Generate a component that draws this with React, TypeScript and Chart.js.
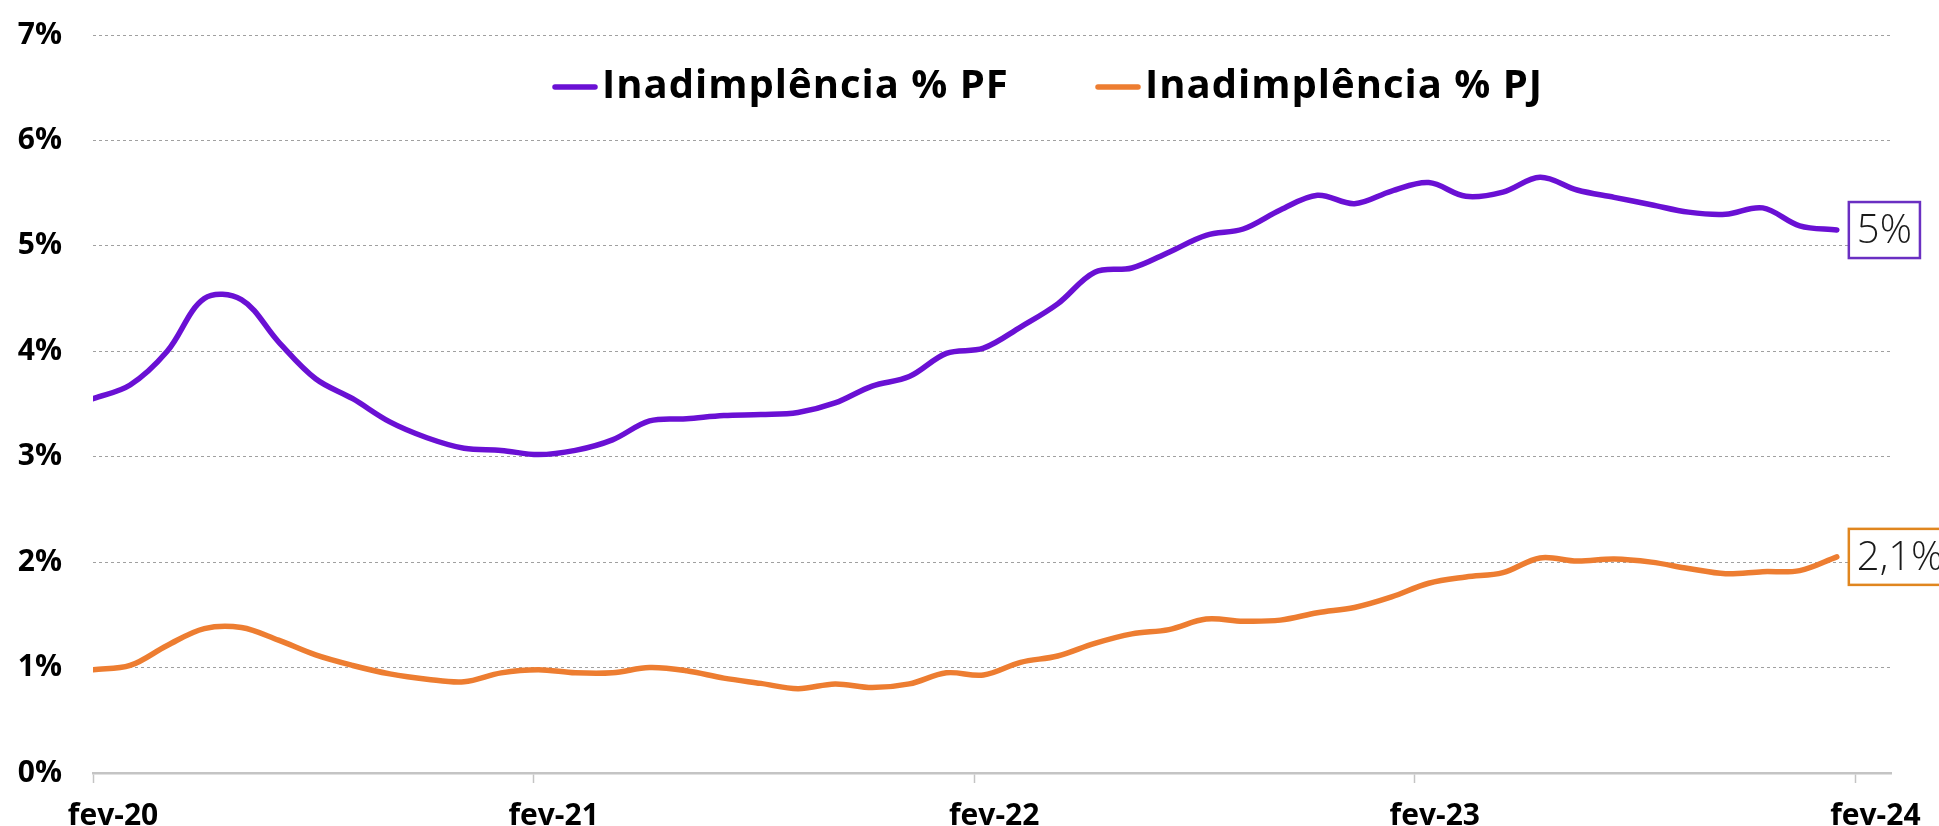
import React, { useEffect, useRef } from 'react';
import { Chart, registerables } from 'chart.js';

Chart.register(...registerables);

// ---- data ----
const MONTH_ABBR = ['jan', 'fev', 'mar', 'abr', 'mai', 'jun', 'jul', 'ago', 'set', 'out', 'nov', 'dez'];
const MONTHS: string[] = [];
for (let k = 0; k < 48; k++) {
  const m = (1 + k) % 12;
  const yr = 20 + Math.floor((1 + k) / 12);
  MONTHS.push(`${MONTH_ABBR[m]}-${yr}`);
}

const PF = [
  3.55, 3.68, 4.0, 4.5, 4.49, 4.09, 3.74, 3.55, 3.33, 3.18, 3.08, 3.06,
  3.02, 3.06, 3.16, 3.34, 3.36, 3.39, 3.4, 3.42, 3.51, 3.67, 3.76, 3.98,
  4.03, 4.23, 4.45, 4.75, 4.79, 4.94, 5.1, 5.16, 5.34, 5.48, 5.4, 5.52,
  5.6, 5.47, 5.51, 5.65, 5.53, 5.46, 5.39, 5.32, 5.3, 5.36, 5.19, 5.15,
];

const PJ = [
  0.98, 1.02, 1.21, 1.37, 1.38, 1.26, 1.12, 1.02, 0.94, 0.89, 0.865, 0.95,
  0.98, 0.95, 0.95, 1.0, 0.97, 0.9, 0.85, 0.8, 0.845, 0.81, 0.845, 0.95,
  0.93, 1.05, 1.11, 1.23, 1.32, 1.36, 1.46, 1.44, 1.45, 1.52, 1.57, 1.67,
  1.8, 1.86, 1.9, 2.04, 2.01, 2.03, 2.0, 1.94, 1.89, 1.91, 1.92, 2.05,
];

const SERIES_NAMES = ['Inadimplência % PF', 'Inadimplência % PJ'];
const SERIES_COLORS = ['#6A10D4', '#ED7D31'];
const END_LABEL_BORDERS = ['#6A2FC2', '#E0861F'];
const END_LABELS = ['5%', '2,1%'];

const X_TICK_LABELS = ['fev-20', 'fev-21', 'fev-22', 'fev-23', 'fev-24'];
const X_TICK_POS = [0, 11.875, 23.75, 35.625, 47.5];
const X_MAX = 48.46;
const Y_MIN = 0;
const Y_MAX = 7;

const FONT = '"Open Sans", "DejaVu Sans", sans-serif';

const legendPlugin = {
  id: 'customLegend',
  afterDraw(chart: any) {
    const ctx = chart.ctx;
    const starts = [553, 1096];
    const y = 87;
    ctx.save();
    chart.data.datasets.forEach((ds: any, i: number) => {
      const x0 = starts[i];
      ctx.strokeStyle = ds.borderColor;
      ctx.lineWidth = 5.5;
      ctx.lineCap = 'round';
      ctx.beginPath();
      ctx.moveTo(x0 + 2, y);
      ctx.lineTo(x0 + 42, y);
      ctx.stroke();
      ctx.fillStyle = '#000';
      ctx.font = `bold 40px ${FONT}`;
      try { (ctx as any).letterSpacing = '1px'; } catch (e) {}
      ctx.textBaseline = 'alphabetic';
      ctx.textAlign = 'left';
      ctx.fillText(ds.label, x0 + 49, 98);
      try { (ctx as any).letterSpacing = '0px'; } catch (e) {}
    });
    ctx.restore();
  },
};

const endLabelPlugin = {
  id: 'endLabels',
  afterDatasetsDraw(chart: any) {
    const ctx = chart.ctx;
    ctx.save();
    chart.data.datasets.forEach((ds: any, i: number) => {
      const meta = chart.getDatasetMeta(i);
      const pt = meta.data[meta.data.length - 1];
      if (!pt) return;
      const text = END_LABELS[i];
      ctx.font = `300 40px ${FONT}`;
      const tw = ctx.measureText(text).width;
      const bx = pt.x + 12;
      const bh = 56;
      const bw = tw + 16;
      const by = pt.y - bh / 2;
      ctx.fillStyle = '#fff';
      ctx.fillRect(bx, by, bw, bh);
      ctx.strokeStyle = END_LABEL_BORDERS[i];
      ctx.lineWidth = 2.5;
      ctx.strokeRect(bx, by, bw, bh);
      ctx.fillStyle = '#1a1a1a';
      ctx.textBaseline = 'middle';
      ctx.textAlign = 'left';
      ctx.fillText(text, bx + 8, pt.y + 2);
    });
    ctx.restore();
  },
};

export default function App() {
  const ref = useRef<HTMLCanvasElement | null>(null);

  useEffect(() => {
    if (!ref.current) return;
    const chart = new Chart(ref.current, {
      type: 'line',
      data: {
        labels: MONTHS,
        datasets: [
          {
            label: SERIES_NAMES[0],
            data: PF.map((v, i) => ({ x: i, y: v })),
            borderColor: SERIES_COLORS[0],
            backgroundColor: SERIES_COLORS[0],
            borderWidth: 5.5,
            pointRadius: 0,
            tension: 0.35,
            borderCapStyle: 'round',
            borderJoinStyle: 'round',
          },
          {
            label: SERIES_NAMES[1],
            data: PJ.map((v, i) => ({ x: i, y: v })),
            borderColor: SERIES_COLORS[1],
            backgroundColor: SERIES_COLORS[1],
            borderWidth: 5.5,
            pointRadius: 0,
            tension: 0.35,
            borderCapStyle: 'round',
            borderJoinStyle: 'round',
          },
        ],
      },
      options: {
        animation: false,
        responsive: false,
        layout: { padding: { top: 35, right: 48, left: 0, bottom: 0 } },
        plugins: {
          legend: { display: false },
          tooltip: { enabled: false },
        },
        scales: {
          x: {
            type: 'linear',
            min: 0,
            max: X_MAX,
            afterBuildTicks: (s: any) => {
              s.ticks = X_TICK_POS.map((v) => ({ value: v }));
            },
            afterFit: (s: any) => {
              s.height = 53;
            },
            grid: {
              drawOnChartArea: false,
              drawTicks: true,
              tickLength: 10,
              tickWidth: 1.5,
              tickColor: '#c4c4c4',
            },
            border: { display: true, color: '#c4c4c4', width: 2.5 },
            ticks: {
              autoSkip: false,
              maxRotation: 0,
              padding: 15,
              labelOffset: 20,
              color: '#000',
              font: { family: FONT, size: 30, weight: 'bold' },
              callback: (_v: any, idx: number) => X_TICK_LABELS[idx],
            },
          },
          y: {
            min: Y_MIN,
            max: Y_MAX,
            afterFit: (s: any) => {
              s.width = 93;
            },
            grid: {
              color: '#a0a0a0',
              lineWidth: 1,
              drawTicks: true,
              tickLength: 31,
              tickColor: 'rgba(0,0,0,0)',
            },
            border: { display: false, dash: [3, 3] },
            ticks: {
              stepSize: 1,
              padding: 0,
              color: '#000',
              font: { family: FONT, size: 30, weight: 'bold' },
              callback: (v: any) => `${v}%`,
            },
          },
        },
      },
      plugins: [legendPlugin, endLabelPlugin],
    } as any);
    return () => chart.destroy();
  }, []);

  return (
    <div style={{ position: 'fixed', left: 0, top: 0, width: 1939, height: 826, background: '#fff' }}>
      <canvas ref={ref} width={1939} height={826} style={{ display: 'block' }} />
    </div>
  );
}
